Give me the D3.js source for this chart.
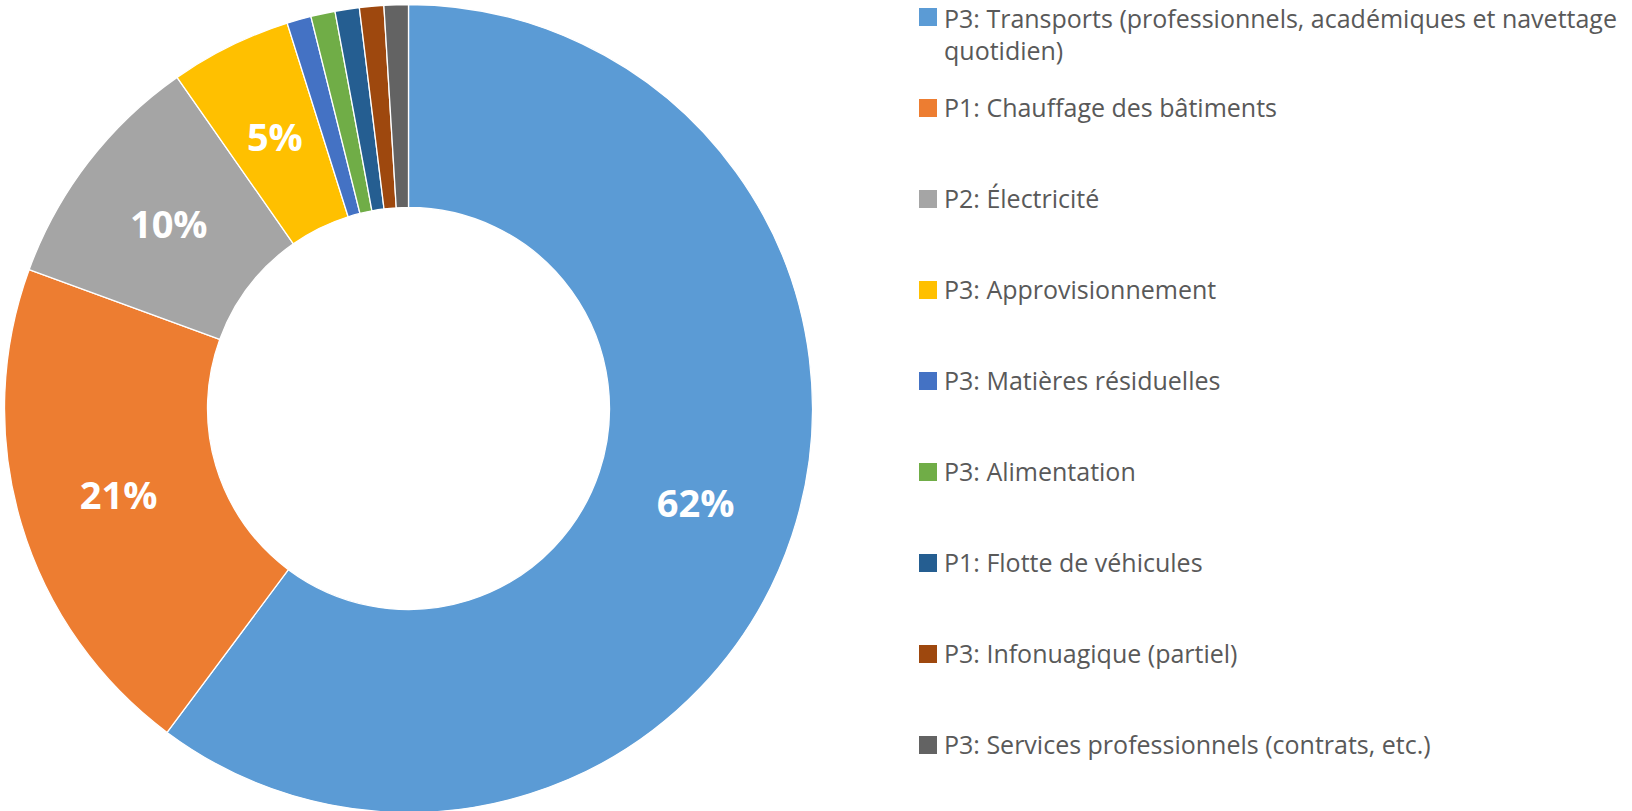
<!DOCTYPE html>
<html>
<head>
<meta charset="utf-8">
<script src="https://cdn.jsdelivr.net/npm/d3@7"></script>
<style>
  body { margin: 0; background: #fff; }
  svg { display: block; }
  .legend text { font-family: "Open Sans", sans-serif; font-size: 25px; fill: #595959; }
  .label { font-family: "Open Sans", sans-serif; font-size: 38px; font-weight: bold; fill: #fff; }
</style>
</head>
<body>
<svg id="chart"></svg>
<script>
// Categories in drawing order (clockwise from 12 o'clock)
const categories = [
  "P3: Transports (professionnels, académiques et navettage quotidien)",
  "P1: Chauffage des bâtiments",
  "P2: Électricité",
  "P3: Approvisionnement",
  "P3: Matières résiduelles",
  "P3: Alimentation",
  "P1: Flotte de véhicules",
  "P3: Infonuagique (partiel)",
  "P3: Services professionnels (contrats, etc.)"
];
// values as shown in the chart (percent, rounded)
const values = [62, 21, 10, 5, 1, 1, 1, 1, 1];
// which slices carry a visible data label
const showLabel = [true, true, true, true, false, false, false, false, false];
const colors = ["#5B9BD5", "#ED7D31", "#A5A5A5", "#FFC000", "#4472C4", "#70AD47", "#255E91", "#9E480E", "#636363"];

const W = 1632, H = 811;
const cx = 408.5, cy = 408.5;
const outerR = 404, innerR = 201;

const svg = d3.select("#chart").attr("width", W).attr("height", H);

const data = categories.map((c, i) => ({ name: c, value: values[i], color: colors[i], label: showLabel[i] }));

const pie = d3.pie().sort(null).value(d => d.value);
const arc = d3.arc().innerRadius(innerR).outerRadius(outerR);

const g = svg.append("g").attr("transform", `translate(${cx},${cy})`);

g.selectAll("path")
  .data(pie(data))
  .enter()
  .append("path")
  .attr("d", arc)
  .attr("fill", d => d.data.color)
  .attr("stroke", "#fff")
  .attr("stroke-width", 1.3);

g.selectAll(".label")
  .data(pie(data).filter(d => d.data.label))
  .enter()
  .append("text")
  .attr("class", "label")
  .attr("transform", d => `translate(${arc.centroid(d)})`)
  .attr("text-anchor", "middle")
  .attr("dy", "0.36em")
  .text(d => d.data.value + "%");

// Legend
const legendX = 919, legendY0 = 17, legendStep = 91, box = 18;
const legend = svg.append("g").attr("class", "legend");

const items = legend.selectAll("g")
  .data(data)
  .enter()
  .append("g")
  .attr("transform", (d, i) => `translate(${legendX},${legendY0 + i * legendStep})`);

items.append("rect")
  .attr("x", 0)
  .attr("y", -box / 2)
  .attr("width", box)
  .attr("height", box)
  .attr("fill", d => d.color);

items.each(function(d, i) {
  const item = d3.select(this);
  if (i === 0) {
    // wraps onto two lines in the original
    item.append("text").attr("x", 25).attr("y", 2).attr("dy", "0.35em")
      .text("P3: Transports (professionnels, académiques et navettage");
    item.append("text").attr("x", 25).attr("y", 34).attr("dy", "0.35em")
      .text("quotidien)");
  } else {
    item.append("text").attr("x", 25).attr("dy", "0.35em").text(d.name);
  }
});
</script>
</body>
</html>
